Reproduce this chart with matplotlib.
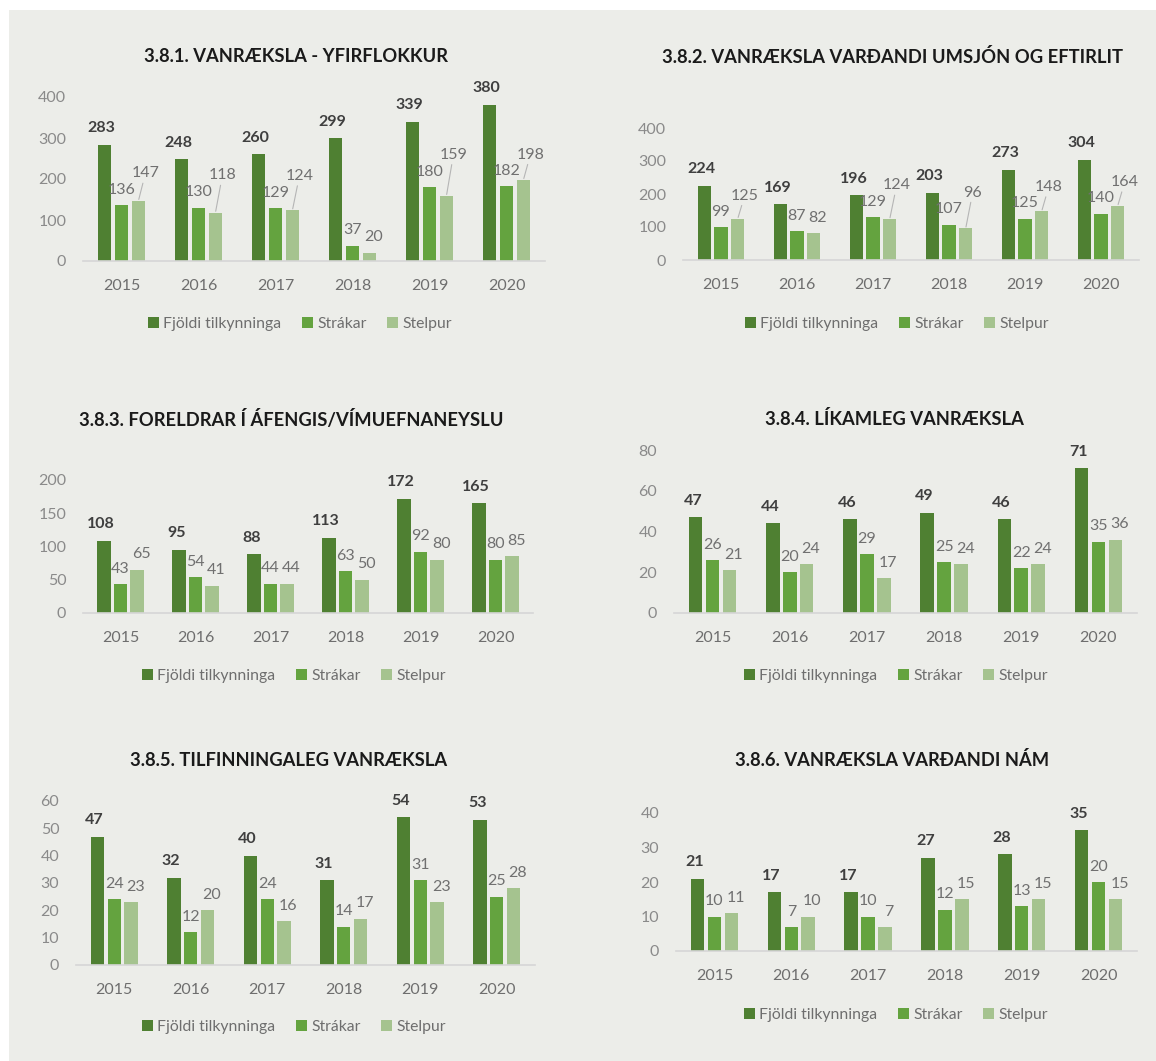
import matplotlib
matplotlib.use("Agg")
import matplotlib.pyplot as plt
from matplotlib.patches import Rectangle
import numpy as np

plt.rcParams['font.family'] = ['Lato', 'DejaVu Sans']

years = ["2015", "2016", "2017", "2018", "2019", "2020"]
series_names = ["Fjöldi tilkynninga", "Strákar", "Stelpur"]

titles = [
    "3.8.1. VANRÆKSLA - YFIRFLOKKUR",
    "3.8.2. VANRÆKSLA VARÐANDI UMSJÓN OG EFTIRLIT",
    "3.8.3. FORELDRAR Í ÁFENGIS/VÍMUEFNANEYSLU",
    "3.8.4. LÍKAMLEG VANRÆKSLA",
    "3.8.5. TILFINNINGALEG VANRÆKSLA",
    "3.8.6. VANRÆKSLA VARÐANDI NÁM",
]

# Fjöldi tilkynninga / Strákar / Stelpur per chart
total_1 = [283, 248, 260, 299, 339, 380]
boys_1 = [136, 130, 129, 37, 180, 182]
girls_1 = [147, 118, 124, 20, 159, 198]

total_2 = [224, 169, 196, 203, 273, 304]
boys_2 = [99, 87, 129, 107, 125, 140]
girls_2 = [125, 82, 124, 96, 148, 164]

total_3 = [108, 95, 88, 113, 172, 165]
boys_3 = [43, 54, 44, 63, 92, 80]
girls_3 = [65, 41, 44, 50, 80, 85]

total_4 = [47, 44, 46, 49, 46, 71]
boys_4 = [26, 20, 29, 25, 22, 35]
girls_4 = [21, 24, 17, 24, 24, 36]

total_5 = [47, 32, 40, 31, 54, 53]
boys_5 = [24, 12, 24, 14, 31, 25]
girls_5 = [23, 20, 16, 17, 23, 28]

total_6 = [21, 17, 17, 27, 28, 35]
boys_6 = [10, 7, 10, 12, 13, 20]
girls_6 = [11, 10, 7, 15, 15, 15]

datasets = [
    (total_1, boys_1, girls_1),
    (total_2, boys_2, girls_2),
    (total_3, boys_3, girls_3),
    (total_4, boys_4, girls_4),
    (total_5, boys_5, girls_5),
    (total_6, boys_6, girls_6),
]
y_max = [400, 400, 200, 80, 60, 40]
y_step = [100, 100, 50, 20, 10, 10]

colors = ["#4f8032", "#64a33f", "#a5c38f"]
bg = "#ecede9"

# layout in pixels: axes (left, right, top_y, zero_y), title (x, y), legend (x, y)
W, H = 1156, 1061
layout = [
    ((83, 545, 97, 261), (296, 57), (300, 324)),
    ((683, 1139, 128, 260), (893, 57), (897, 324)),
    ((83, 533, 480, 613), (291, 419), (294, 676)),
    ((674, 1137, 450, 613), (894, 419), (896, 676)),
    ((76, 535, 801, 965), (289, 760), (294, 1027)),
    ((676, 1137, 813, 951), (892, 760), (896, 1015)),
]

fig = plt.figure(figsize=(W / 100, H / 100), dpi=100)
fig.patch.set_facecolor("white")
fig.patches.append(Rectangle((9 / W, 0), 1, 1 - 10 / H, transform=fig.transFigure,
                             facecolor=bg, edgecolor="none", zorder=-10))

x = np.arange(len(years))
bw = 0.175
offs = [-0.22, 0.0, 0.22]
lbl_fs = 11.5

for i, (data, (box, tpos, lpos)) in enumerate(zip(datasets, layout)):
    l, r, t, z = box
    ax = fig.add_axes([l / W, 1 - z / H, (r - l) / W, (z - t) / H])
    ax.set_facecolor("none")
    ymax = y_max[i]
    px_per_unit = (z - t) / ymax
    bars = []
    for k in range(3):
        b = ax.bar(x + offs[k], data[k], bw, color=colors[k], label=series_names[k])
        bars.append(b)

    for j in range(len(years)):
        tv, bv, gv = data[0][j], data[1][j], data[2][j]
        ax.annotate(str(tv), (x[j] + offs[0], tv), xytext=(-2, 7), textcoords="offset points",
                    ha="center", va="bottom", fontsize=lbl_fs, fontweight="bold", color="#3f3f3f")
        ax.annotate(str(bv), (x[j] + offs[1], bv), xytext=(0, 6), textcoords="offset points",
                    ha="center", va="bottom", fontsize=lbl_fs, color="#707070")
        # lift the girls label (with a leader line) when it would hit the boys label
        gap = (gv - bv) * px_per_unit
        wide = max(len(str(bv)), len(str(gv))) >= 3
        if wide and abs(gap) < 16:
            if gap >= 0:
                lift = (16 - gap) * 0.75
            else:
                lift = -gap * 0.75 + 12
            ax.annotate(str(gv), (x[j] + offs[2], gv), xytext=(5, 6 + lift),
                        textcoords="offset points", ha="center", va="bottom",
                        fontsize=lbl_fs, color="#707070",
                        arrowprops=dict(arrowstyle="-", color="#b5b5b5", lw=0.8,
                                        shrinkA=0, shrinkB=1))
        else:
            ax.annotate(str(gv), (x[j] + offs[2], gv), xytext=(3, 6), textcoords="offset points",
                        ha="center", va="bottom", fontsize=lbl_fs, color="#707070")

    ax.set_xlim(-0.5, len(years) - 0.5)
    ax.set_ylim(0, ymax)
    ax.set_yticks(np.arange(0, ymax + 1, y_step[i]))
    ax.set_xticks(x)
    ax.set_xticklabels(years)
    ax.tick_params(axis="both", length=0, labelsize=11.5, colors="#6e6e6e")
    ax.tick_params(axis="x", pad=13)
    ax.tick_params(axis="y", pad=12, colors="#8a8a8a")
    for s in ["top", "right", "left"]:
        ax.spines[s].set_visible(False)
    ax.spines["bottom"].set_color("#d6d6d6")
    ax.spines["bottom"].set_linewidth(1.2)

    fig.text(tpos[0] / W, 1 - tpos[1] / H, titles[i], ha="center", va="center",
             fontsize=13.2, fontweight="bold", color="#1a1a1a")
    ax.legend(handles=bars, loc="center", bbox_to_anchor=(lpos[0] / W, 1 - lpos[1] / H),
              bbox_transform=fig.transFigure, ncol=3, frameon=False, fontsize=11.3,
              handlelength=0.7, handleheight=0.7, handletextpad=0.3, columnspacing=1.3,
              labelcolor="#6e6e6e")

fig.savefig("out.png", dpi=100, facecolor=fig.get_facecolor())
